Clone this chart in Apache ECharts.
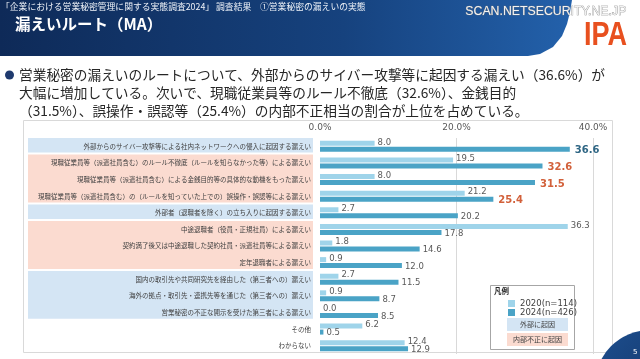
<!DOCTYPE html>
<html><head><meta charset="utf-8">
<script src="https://cdn.jsdelivr.net/npm/echarts@6/dist/echarts.min.js"></script>
<style>html,body{margin:0;padding:0;background:#fff}#c{width:640px;height:359px}</style>
</head><body><div id="c"></div>
<script>
const categories = [
  '外部からのサイバー攻撃等による社内ネットワークへの侵入に起因する漏えい',
  '現職従業員等（派遣社員含む）のルール不徹底（ルールを知らなかった等）による漏えい',
  '現職従業員等（派遣社員含む）による金銭目的等の具体的な動機をもった漏えい',
  '現職従業員等（派遣社員含む）の（ルールを知っていた上での）誤操作・誤認等による漏えい',
  '外部者（退職者を除く）の立ち入りに起因する漏えい',
  '中途退職者（役員・正規社員）による漏えい',
  '契約満了後又は中途退職した契約社員・派遣社員等による漏えい',
  '定年退職者による漏えい',
  '国内の取引先や共同研究先を経由した（第三者への）漏えい',
  '海外の拠点・取引先・連携先等を通じた（第三者への）漏えい',
  '営業秘密の不正な開示を受けた第三者による漏えい',
  'その他',
  'わからない'
];
const values2020 = [8.0, 19.5, 8.0, 21.2, 2.7, 36.3, 1.8, 0.9, 2.7, 0.9, 0.0, 6.2, 12.4];
const values2024 = [36.6, 32.6, 31.5, 25.4, 20.2, 17.8, 14.6, 12.0, 11.5, 8.7, 8.5, 0.5, 12.9];
const routeGroups = ['外部', '内部', '内部', '内部', '外部', '内部', '内部', '内部', '外部', '外部', '外部', '', ''];
const highlighted = [0, 1, 2, 3];
const seriesNames = ['2020(n=114)', '2024(n=426)'];
const xTicks = [0, 20, 40];
const legendGroups = ['外部に起因', '内部不正に起因'];

const groupFill = { '外部': '#d4e5f4', '内部': '#fbdbd0' };
const groupHighlight = { '外部': '#2f6684', '内部': '#d2603a' };

const runs = [];
routeGroups.forEach((g, i) => {
  if (!g) return;
  const last = runs[runs.length - 1];
  if (last && last[2] === g && last[1] === i - 1) last[1] = i;
  else runs.push([i, i, g]);
});

const numFont = 'DejaVu Sans';
const jpFont = 'Noto Sans CJK JP';

const data2024 = values2024.map((v, i) => highlighted.includes(i) ? {
  value: v,
  label: { fontSize: 10, fontWeight: 'bold', color: groupHighlight[routeGroups[i]], distance: 5, offset: [0, 1.5] }
} : v);

function lin(x2, y2, stops) {
  return { type: 'linear', x: 0, y: 0, x2: x2, y2: y2, colorStops: stops.map(s => ({ offset: s[0], color: s[1] })) };
}

const chart = echarts.init(document.getElementById('c'));
chart.setOption({
  animation: false,
  textStyle: { fontFamily: jpFont },
  grid: [
    { left: 320, right: 640 - 593, top: 138, height: 216 },
    { left: 28, right: 640 - 313, top: 137, height: 216 }
  ],
  xAxis: [
    {
      gridIndex: 0, type: 'value', position: 'top',
      min: xTicks[0], max: xTicks[xTicks.length - 1], interval: xTicks[1] - xTicks[0],
      axisLine: { show: false }, axisTick: { show: false },
      axisLabel: { formatter: v => v.toFixed(1) + '%', fontSize: 9, color: '#595959', fontFamily: numFont, margin: 6 },
      splitLine: { show: true, lineStyle: { color: ['rgba(0,0,0,0)', '#d9d9d9', '#d9d9d9'], width: 1 } }
    },
    { gridIndex: 1, type: 'value', min: 0, max: 1, show: false }
  ],
  yAxis: [
    {
      gridIndex: 0, type: 'category', data: categories, inverse: true, z: 10,
      axisLine: { show: false }, axisTick: { show: false },
      axisLabel: { fontSize: 6.5, color: '#404040', margin: 9, fontFamily: jpFont }
    },
    { gridIndex: 1, type: 'category', data: categories, inverse: true, show: false }
  ],
  legend: {
    data: seriesNames, orient: 'vertical', left: 503, top: 294,
    itemWidth: 7, itemHeight: 7, itemGap: 0, icon: 'rect',
    textStyle: { fontSize: 8.5, color: '#404040', fontFamily: numFont }
  },
  series: [
    {
      name: 'bands', type: 'custom', xAxisIndex: 1, yAxisIndex: 1, z: 1, silent: true,
      data: runs.map(r => [r[0], r[1]]),
      renderItem: function (params, api) {
        const s = api.value(0), e = api.value(1), g = runs[params.dataIndex][2];
        const h = api.size([0, 1])[1];
        const p0 = api.coord([0, s]), p1 = api.coord([1, e]);
        return {
          type: 'rect',
          shape: { x: p0[0], y: p0[1] - h / 2 + 1, width: p1[0] - p0[0], height: (p1[1] - p0[1]) + h - 2 },
          style: { fill: groupFill[g] }
        };
      }
    },
    {
      name: seriesNames[0], type: 'bar', data: values2020, barWidth: 5, barGap: '20%',
      itemStyle: { color: '#9fd4ea' },
      label: { show: true, position: 'right', distance: 3, offset: [0, -1], fontSize: 8.5, color: '#595959', fontFamily: numFont, formatter: p => Number(p.value).toFixed(1) }
    },
    {
      name: seriesNames[1], type: 'bar', data: data2024, barWidth: 5,
      itemStyle: { color: '#4aa3c6' },
      label: { show: true, position: 'right', distance: 3, offset: [0, 1], fontSize: 8.5, color: '#595959', fontFamily: numFont, formatter: p => Number(p.value).toFixed(1) }
    }
  ],
  graphic: [
    { type: 'polygon', z: 0, shape: { points: [[0, 0], [572, 0], [570, 12], [567, 24], [562, 36], [553, 47], [540, 54], [528, 56], [0, 56]] },
      style: { fill: lin(1, 0, [[0, '#0e2a58'], [0.6, '#16427e'], [1, '#2361ab']]) } },
    { type: 'text', left: 1, top: 2, style: { text: '「企業における営業秘密管理に関する実態調査2024」 調査結果　①営業秘密の漏えいの実態', fill: '#eef2f8', fontSize: 8.8, fontFamily: jpFont } },
    { type: 'text', left: 15, top: 16, style: { text: '漏えいルート（MA）', fill: '#ffffff', fontSize: 15.5, fontWeight: 'bold', fontFamily: jpFont } },
    { type: 'text', left: 465, top: 5, style: { text: 'SCAN.NETSECURITY.NE.JP', fill: '#f2f2f2', stroke: '#7a7a7a', lineWidth: 0.6, fontSize: 12.3, fontFamily: 'Liberation Sans' } },
    { type: 'text', left: 584, top: 19, scaleX: 0.82, style: { text: 'IPA', fill: '#e8501f', fontSize: 33, fontWeight: 'bold', fontFamily: 'Liberation Sans' } },
    { type: 'circle', shape: { cx: 9.5, cy: 75, r: 4.5 }, style: { fill: '#1f3a6e' } },
    { type: 'text', left: 19, top: 66, style: {
      text: '営業秘密の漏えいのルートについて、外部からのサイバー攻撃等に起因する漏えい（36.6%）が\n大幅に増加している。次いで、現職従業員等のルール不徹底（32.6%）、金銭目的\n（31.5%）、誤操作・誤認等（25.4%）の内部不正相当の割合が上位を占めている。',
      fill: '#262626', fontSize: 13.7, fontFamily: jpFont, lineHeight: 18 } },
    { type: 'rect', z: 0, shape: { x: 23.5, y: 120.5, width: 589, height: 232 }, style: { fill: 'none', stroke: '#d9d9d9', lineWidth: 1 } },
    { type: 'rect', z: 0, shape: { x: 490.5, y: 285.5, width: 84, height: 64 }, style: { fill: '#ffffff', stroke: '#a6a6a6', lineWidth: 1 } },
    { type: 'text', left: 494, top: 287, z: 5, style: { text: '凡例', fill: '#262626', fontSize: 7.5, fontWeight: 'bold', fontFamily: jpFont } },
    { type: 'rect', z: 5, shape: { x: 507, y: 318, width: 61, height: 13 }, style: { fill: groupFill['外部'] } },
    { type: 'text', z: 6, x: 537.5, y: 324.5, style: { text: legendGroups[0], fill: '#404040', fontSize: 7, fontFamily: jpFont, align: 'center', verticalAlign: 'middle' } },
    { type: 'rect', z: 5, shape: { x: 507, y: 333, width: 61, height: 13 }, style: { fill: groupFill['内部'] } },
    { type: 'text', z: 6, x: 537.5, y: 339.5, style: { text: legendGroups[1], fill: '#404040', fontSize: 7, fontFamily: jpFont, align: 'center', verticalAlign: 'middle' } },
    { type: 'circle', z: 0, shape: { cx: 650, cy: 385, r: 55 }, style: { fill: lin(1, 1, [[0, '#1d4f8f'], [1, '#0e2a58']]) } },
    { type: 'text', z: 1, x: 633, y: 349, style: { text: '5', fill: '#ffffff', fontSize: 7, fontFamily: numFont } }
  ]
});
</script></body></html>
